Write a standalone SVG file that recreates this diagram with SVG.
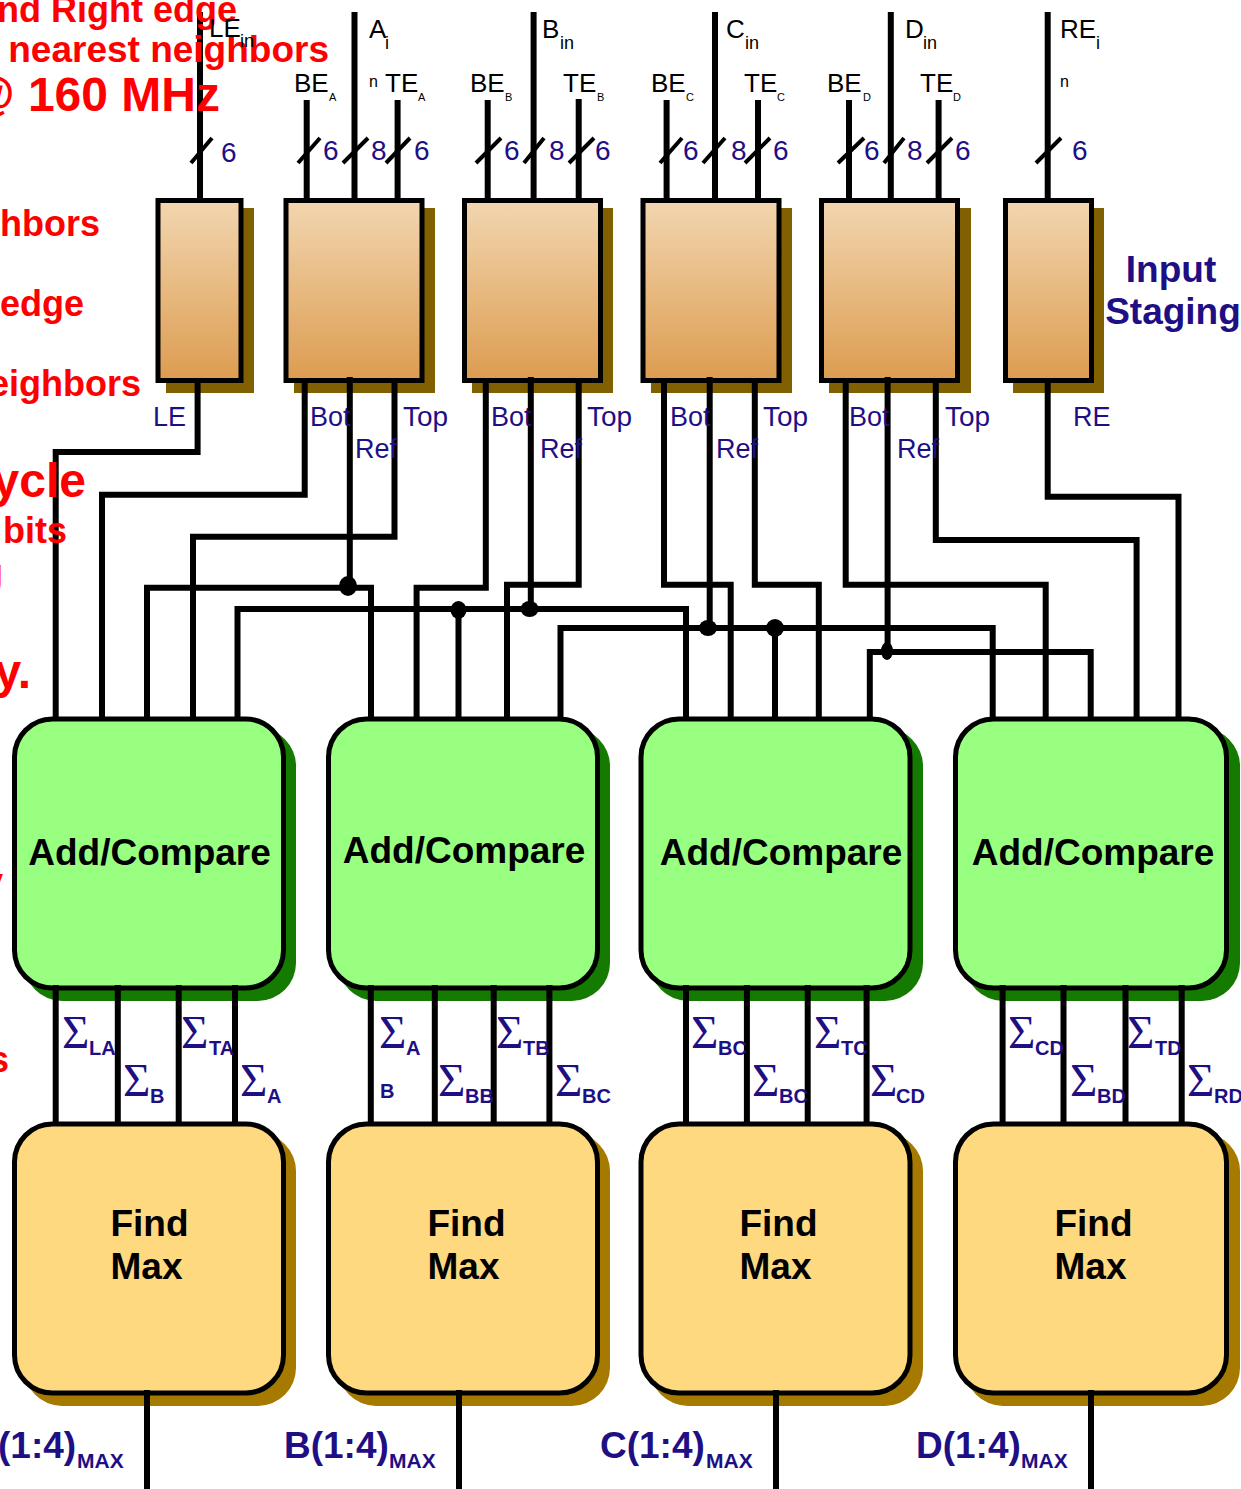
<svg xmlns="http://www.w3.org/2000/svg" width="1241" height="1489" viewBox="0 0 1241 1489">
<defs>
<linearGradient id="g" x1="0" y1="0" x2="0" y2="1"><stop offset="0" stop-color="#f2d6b0"/><stop offset="1" stop-color="#dc9c50"/></linearGradient>
</defs>
<style>
text{font-family:"Liberation Sans",Arial,sans-serif}
.w{fill:none;stroke:#000;stroke-width:6;stroke-linejoin:miter}
.s{fill:none;stroke:#000;stroke-width:4}
.sh{fill:#806000}
.st{fill:url(#g);stroke:#000;stroke-width:5}
.gs{fill:#147a00}
.g{fill:#99ff80;stroke:#000;stroke-width:5}
.os{fill:#a67a00}
.o{fill:#ffd980;stroke:#000;stroke-width:5}
.r{fill:#ff0000;font-weight:bold}
.b{fill:#000;font-size:26px}
.bs{fill:#000;font-size:11px}
.bi{fill:#000;font-size:18px}
.n{fill:#1f0f85;font-size:28px}
.l{fill:#1f0f85;font-size:27px}
.tp{font-size:28px}
.sg{fill:#1f0f85;font-size:47px;font-family:"Liberation Serif",serif}
.ss{fill:#1f0f85;font-size:20px;font-weight:bold}
.t{fill:#000;font-size:37px;font-weight:bold;text-anchor:middle}
.m{fill:#1f0f85;font-size:37px;font-weight:bold}
.mm{fill:#1f0f85;font-size:21px;font-weight:bold}
</style>
<g id="stage-le"><rect class="sh" x="166" y="208" width="88" height="185"/><rect class="st" x="158" y="200.500" width="83" height="180"/></g>
<g id="stage-a"><rect class="sh" x="294" y="208" width="141" height="185"/><rect class="st" x="286" y="200.500" width="136" height="180"/></g>
<g id="stage-b"><rect class="sh" x="472" y="208" width="141" height="185"/><rect class="st" x="464.500" y="200.500" width="136" height="180"/></g>
<g id="stage-c"><rect class="sh" x="651" y="208" width="141" height="185"/><rect class="st" x="643" y="200.500" width="136" height="180"/></g>
<g id="stage-d"><rect class="sh" x="829" y="208" width="142" height="185"/><rect class="st" x="821.500" y="200.500" width="136" height="180"/></g>
<g id="stage-re"><rect class="sh" x="1013" y="208" width="91" height="185"/><rect class="st" x="1005.500" y="200.500" width="86" height="180"/></g>
<g id="add-a"><rect class="gs" x="24" y="728" width="272" height="273" rx="38"/><rect class="g" x="14.500" y="719" width="269" height="269" rx="38"/><text class="t" x="149.500" y="865">Add/Compare</text></g>
<g id="add-b"><rect class="gs" x="338" y="728" width="272" height="273" rx="38"/><rect class="g" x="328.500" y="719" width="269" height="269" rx="38"/><text class="t" x="464" y="863">Add/Compare</text></g>
<g id="add-c"><rect class="gs" x="650" y="728" width="273" height="273" rx="38"/><rect class="g" x="641" y="719" width="269" height="269" rx="38"/><text class="t" x="781" y="865">Add/Compare</text></g>
<g id="add-d"><rect class="gs" x="965" y="728" width="275" height="273" rx="38"/><rect class="g" x="955.500" y="719" width="271" height="269" rx="38"/><text class="t" x="1093" y="865">Add/Compare</text></g>
<g id="max-a"><rect class="os" x="24" y="1133" width="272" height="273" rx="38"/><rect class="o" x="14.500" y="1124" width="269" height="269" rx="38"/><text class="t" x="149.500" y="1236">Find</text><text class="t" x="146.500" y="1279">Max</text></g>
<g id="max-b"><rect class="os" x="338" y="1133" width="272" height="273" rx="38"/><rect class="o" x="328.500" y="1124" width="269" height="269" rx="38"/><text class="t" x="466.500" y="1236">Find</text><text class="t" x="463.500" y="1279">Max</text></g>
<g id="max-c"><rect class="os" x="650" y="1133" width="273" height="273" rx="38"/><rect class="o" x="641" y="1124" width="269" height="269" rx="38"/><text class="t" x="778.500" y="1236">Find</text><text class="t" x="775.500" y="1279">Max</text></g>
<g id="max-d"><rect class="os" x="965" y="1133" width="275" height="273" rx="38"/><rect class="o" x="955.500" y="1124" width="271" height="269" rx="38"/><text class="t" x="1093.500" y="1236">Find</text><text class="t" x="1090.500" y="1279">Max</text></g>
<g id="connectors">
<path class="w" d="M200 12V203M354.500 12V203M306.700 100V203M397.600 100V203M487.700 100V203M533.600 12V203M578.700 99V203M666.600 100V203M715 12V203M758 100V203M849 100V203M890.800 12V203M938.600 100V203M1047.700 12V203"/>
<path class="s" d="M191 163L212 138M298 163L320 138M343 163L368 138M386 163L410 138M476 163L501 138M524 163L544 138M569 163L594 138M660 163L682 138M703 163L725 138M745 163L770 138M838 163L864 138M884 163L904 138M927 163L952 138M1036 163L1061 138"/>
<path class="w" d="M197.600 382V452H55.700V718M304.700 382V494.700H102V720M394.500 382V536.700H193V718M349.800 377V586M147 718V587.700H371V720M237.500 718V609H686V720M458.500 610V720M530.800 377V609M485.800 382V587.700H416.600V720M578.700 382V584.700H507V720M560.500 718V628H992.700V720M775 628V720M664 382V584.700H730.700V720M709.700 377V628M754.800 382V584.700H818.800V720M845.700 382V584.700H1045.700V720M887.600 377V652M869.800 718V652H1090.700V720M935.800 382V540H1136.600V720M1047.700 382V496.700H1178.500V720"/>
<ellipse cx="348" cy="586" rx="9" ry="10"/><ellipse cx="458.500" cy="610" rx="8" ry="9"/><ellipse cx="529.600" cy="609" rx="9" ry="8"/><ellipse cx="708" cy="628" rx="9" ry="8"/><ellipse cx="775" cy="628" rx="9" ry="9"/><ellipse cx="887" cy="651" rx="6" ry="9"/>
<path class="w" d="M55.700 985V1125M117.800 985V1125M178.700 985V1125M235 985V1125M370.800 985V1125M434.800 985V1125M493.700 985V1125M549.400 985V1125M686 985V1125M746.900 985V1125M807.700 985V1125M866.600 985V1125M1002.600 985V1125M1063.500 985V1125M1125.500 985V1125M1181.700 985V1125"/>
<path class="w" d="M147 1390V1489M459 1390V1489M776 1390V1489M1091 1390V1489"/>
</g>
<g id="red-text">
<text class="r" font-size="36" x="237" y="22" text-anchor="end">nd Right edge</text>
<text class="r" font-size="37" x="329" y="62" text-anchor="end">nearest neighbors</text>
<text class="r" font-size="48" x="220" y="111" text-anchor="end">@ 160 MHz</text>
<text class="r" font-size="36" x="100" y="236" text-anchor="end">hbors</text>
<text class="r" font-size="36" x="84" y="316" text-anchor="end">edge</text>
<text class="r" font-size="36" x="141" y="396" text-anchor="end">eighbors</text>
<text class="r" font-size="48" x="86" y="497" text-anchor="end">ycle</text>
<text class="r" font-size="36" x="67" y="543" text-anchor="end">bits</text>
<text class="r" font-size="36" x="3" y="585" text-anchor="end">g</text>
<text class="r" font-size="48" x="31" y="688" text-anchor="end">y.</text>
<text class="r" font-size="36" x="3" y="894" text-anchor="end">y</text>
<text class="r" font-size="36" x="9" y="1072" text-anchor="end">s</text>
</g>
<g id="labels">
<text class="b" x="209" y="37">LE</text><text class="bi" x="240" y="47">in</text>
<text class="b" x="369" y="38">A</text><text class="bi" x="385" y="49">i</text><text class="bi" x="369" y="87" style="font-size:16px">n</text>
<text class="b" x="542" y="38">B</text><text class="bi" x="560" y="49">in</text>
<text class="b" x="726" y="38">C</text><text class="bi" x="745" y="49">in</text>
<text class="b" x="905" y="38">D</text><text class="bi" x="923" y="49">in</text>
<text class="b" x="1060" y="38">RE</text><text class="bi" x="1096" y="49">i</text><text class="bi" x="1060" y="87" style="font-size:16px">n</text>
<text class="b" x="294" y="92">BE</text><text class="bs" x="329" y="101">A</text>
<text class="b" x="385" y="92">TE</text><text class="bs" x="418" y="101">A</text>
<text class="b" x="470" y="92">BE</text><text class="bs" x="505" y="101">B</text>
<text class="b" x="563" y="92">TE</text><text class="bs" x="597" y="101">B</text>
<text class="b" x="651" y="92">BE</text><text class="bs" x="686" y="101">C</text>
<text class="b" x="744" y="92">TE</text><text class="bs" x="777" y="101">C</text>
<text class="b" x="827" y="92">BE</text><text class="bs" x="863" y="101">D</text>
<text class="b" x="920" y="92">TE</text><text class="bs" x="953" y="101">D</text>
<text class="n" x="221" y="162">6</text><text class="n" x="323" y="160">6</text><text class="n" x="371" y="160">8</text><text class="n" x="414" y="160">6</text>
<text class="n" x="504" y="160">6</text><text class="n" x="549" y="160">8</text><text class="n" x="595" y="160">6</text>
<text class="n" x="683" y="160">6</text><text class="n" x="731" y="160">8</text><text class="n" x="773" y="160">6</text>
<text class="n" x="864" y="160">6</text><text class="n" x="907" y="160">8</text><text class="n" x="955" y="160">6</text>
<text class="n" x="1072" y="160">6</text>
<text class="l" x="153" y="426">LE</text>
<text class="l" x="310" y="426">Bot</text><text class="l tp" x="403" y="426">Top</text><text class="l" x="355" y="458">Ref</text>
<text class="l" x="491" y="426">Bot</text><text class="l tp" x="587" y="426">Top</text><text class="l" x="540" y="458">Ref</text>
<text class="l" x="670" y="426">Bot</text><text class="l tp" x="763" y="426">Top</text><text class="l" x="716" y="458">Ref</text>
<text class="l" x="849" y="426">Bot</text><text class="l tp" x="945" y="426">Top</text><text class="l" x="897" y="458">Ref</text>
<text class="l" x="1073" y="426">RE</text>
<text class="m" x="1171" y="282" text-anchor="middle">Input</text>
<text class="m" x="1173" y="324" text-anchor="middle">Staging</text>
<text class="sg" x="62" y="1048">Σ</text><text class="ss" x="89" y="1055">LA</text>
<text class="sg" x="123" y="1096">Σ</text><text class="ss" x="150" y="1103">B</text>
<text class="sg" x="181" y="1048">Σ</text><text class="ss" x="209" y="1055">TA</text>
<text class="sg" x="240" y="1096">Σ</text><text class="ss" x="267" y="1103">A</text>
<text class="sg" x="379" y="1048">Σ</text><text class="ss" x="406" y="1055">A</text><text class="ss" x="380" y="1098">B</text>
<text class="sg" x="438" y="1096">Σ</text><text class="ss" x="465" y="1103">BB</text>
<text class="sg" x="496" y="1048">Σ</text><text class="ss" x="523" y="1055">TB</text>
<text class="sg" x="555" y="1096">Σ</text><text class="ss" x="582" y="1103">BC</text>
<text class="sg" x="691" y="1048">Σ</text><text class="ss" x="718" y="1055">BC</text>
<text class="sg" x="752" y="1096">Σ</text><text class="ss" x="779" y="1103">BC</text>
<text class="sg" x="814" y="1048">Σ</text><text class="ss" x="841" y="1055">TC</text>
<text class="sg" x="870" y="1096">Σ</text><text class="ss" x="896" y="1103">CD</text>
<text class="sg" x="1008" y="1048">Σ</text><text class="ss" x="1035" y="1055">CD</text>
<text class="sg" x="1070" y="1096">Σ</text><text class="ss" x="1097" y="1103">BD</text>
<text class="sg" x="1127" y="1048">Σ</text><text class="ss" x="1155" y="1055">TD</text>
<text class="sg" x="1187" y="1096">Σ</text><text class="ss" x="1214" y="1103">RD</text>
<text class="m" x="-2" y="1458">(1:4)</text><text class="mm" x="77" y="1468">MAX</text>
<text class="m" x="284" y="1458">B(1:4)</text><text class="mm" x="389" y="1468">MAX</text>
<text class="m" x="600" y="1458">C(1:4)</text><text class="mm" x="706" y="1468">MAX</text>
<text class="m" x="916" y="1458">D(1:4)</text><text class="mm" x="1021" y="1468">MAX</text>
</g>
</svg>
